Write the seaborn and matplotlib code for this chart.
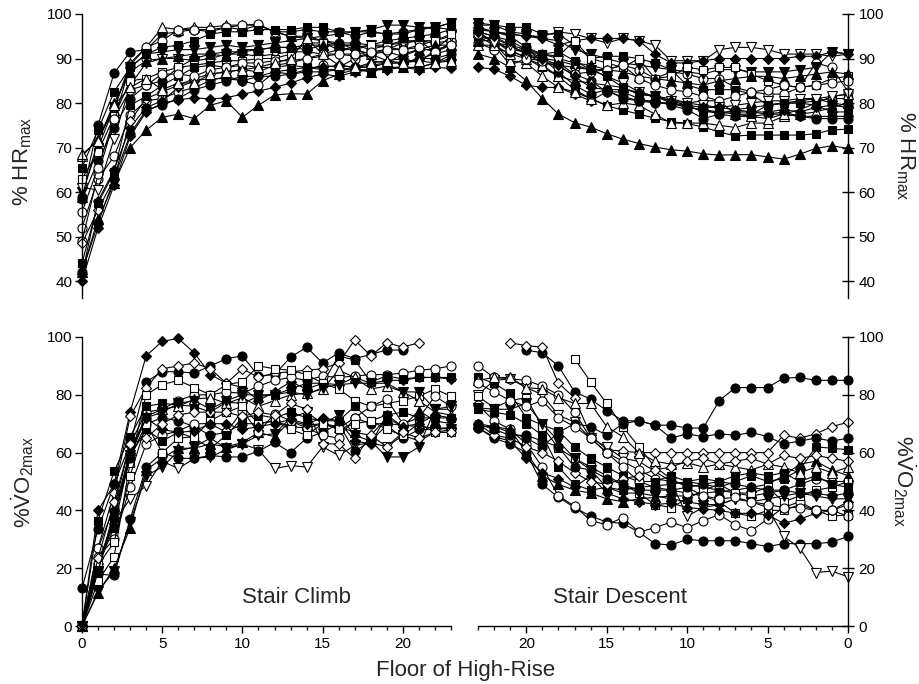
import numpy as np
import pandas as pd
import matplotlib
matplotlib.use("Agg")
import matplotlib.pyplot as plt
from matplotlib.ticker import MultipleLocator
import seaborn as sns

nan = np.nan

# ---------------- data ----------------
floors_up = [0, 1, 2, 3, 4, 5, 6, 7, 8, 9, 10, 11, 12, 13, 14, 15, 16, 17, 18, 19, 20, 21, 22, 23]
floors_down = [23, 22, 21, 20, 19, 18, 17, 16, 15, 14, 13, 12, 11, 10, 9, 8, 7, 6, 5, 4, 3, 2, 1, 0]
major_ticks = [0, 5, 10, 15, 20]
hr_ticks = [40, 50, 60, 70, 80, 90, 100]
vo2_ticks = [0, 20, 40, 60, 80, 100]

# %HRmax during stair climb (floor 0 -> 23)
hr_up_01 = [42, 54, 62, 70, 73.9, 76.8, 77.5, 76.5, 79.5, 80.5, 76.8, 79.5, 81.8, 82.1, 82, 85, 86.5, 87.5, 87, 88, 88, 88, 89, 90.8]
hr_up_02 = [40, 52, 61.5, 72.5, 78, 80, 80.7, 81.2, 80.9, 81.2, 82, 82.7, 83.5, 84.5, 85.7, 86.5, 86, 87, 87.5, 87.5, 88, 87.5, 88, 87.8]
hr_up_03 = [52, 63, 68, 77.3, 80.5, 81, 82.5, 83.5, 85, 86, 85, 84, 87, 86.5, 87.5, 88.5, 88, 90, 91, 92, 93.5, 94, 91.5, 93.5]
hr_up_04 = [59, 75, 86.7, 91.5, 92, 95.5, 96, 96.5, 96, 97, 96.5, 97.5, 96, 96, 96.5, 96, 96, 95, 96, 95.5, 96, 96.5, 97, 96.5]
hr_up_05 = [68, 72, 78.5, 89, 92.5, 97, 96.5, 97, 97, 97.5, 97.5, 97.5, 96, 95, 94.5, 94, 93.5, 92, 91, 89.5, 90, 89, 92, 95]
hr_up_06 = [49, 64, 76, 88.5, 92.5, 94, 96.5, 96.5, 96.5, 97, 97.5, 97.7, 96, 95, 95, 94, 93, 93, 92, 93, 94, 94, 93.5, 94]
hr_up_07 = [65.5, 74, 82.5, 88, 91, 92.5, 93, 94, 95.5, 96, 96, 96.5, 96.5, 96.5, 97, 97, 96, 96, 96, 95.5, 95.5, 96.5, 97, 98]
hr_up_08 = [60, 70, 79, 88, 91, 91.5, 92, 92, 92.5, 93, 92.5, 93, 93.5, 94, 94.5, 95, 95.5, 96, 96.5, 97.5, 97.5, 97, 97, 98]
hr_up_09 = [61, 60.5, 72, 84, 89, 90, 90, 89.5, 90, 91, 91, 90.5, 91, 91.5, 91.5, 91, 92, 92.5, 93, 93, 93.5, 94, 94, 95]
hr_up_10 = [58.5, 67, 74.5, 81, 84, 85, 88, 90, 91, 91.5, 91.5, 92, 92.5, 92.5, 92, 93, 93.5, 93.5, 93, 94, 94.5, 95, 95.5, 96.5]
hr_up_11 = [63, 69, 77, 85, 85.5, 87, 88, 88.5, 89, 89.5, 89.5, 90, 90, 91, 93.5, 93.5, 92, 92, 93, 92.5, 92, 93, 94, 95.5]
hr_up_12 = [41.5, 58, 65, 74.5, 79, 80.5, 83.5, 85, 85.5, 85.5, 85, 86, 87, 87.5, 88, 88, 88.5, 88, 88, 89, 89, 90, 91, 92]
hr_up_13 = [48.5, 56, 63, 76, 81, 82.5, 84, 85.5, 86.5, 87, 87.5, 87, 88.5, 89, 90, 90.5, 91, 90.5, 91, 91.5, 90.5, 92, 92, 93]
hr_up_14 = [44, 57.5, 64.5, 79.5, 81.5, 84, 86, 88, 88.5, 88, 88.5, 88, 88, 88.5, 88, 87.5, 87.5, 87.5, 87.5, 88, 88, 88, 89, 90]
hr_up_15 = [59, 71.5, 80, 87, 89.5, 90, 90.5, 91, 91, 90.5, 92, 92, 92.5, 92.5, 93, 93, 93, 93, 89.5, 89, 91, 92, 93, 93]
hr_up_16 = [55.5, 65.5, 76.5, 83, 84, 86.5, 86.5, 86, 87.5, 88, 89, 89, 89.5, 89.5, 90, 91, 91, 91, 91.5, 92, 92, 92.5, 91.5, 93]
hr_up_17 = [42, 53, 63, 73, 78.5, 79.5, 81, 83, 84, 85, 86, 86, 86, 86.5, 87, 87, 87.5, 88, 88.5, 89, 89, 90, 90, 91]
hr_up_18 = [68.5, 71.5, 79.5, 83.5, 85.5, 83, 84.5, 84.5, 86.5, 87, 87.5, 88, 89, 90, 94.5, 91, 88.5, 88, 89, 89.5, 89, 89.5, 89, 89.5]

# %HRmax during stair descent (floor 23 -> 0)
hr_dn_01 = [91, 90, 88, 85, 81, 77.5, 75.6, 74.6, 73.1, 71.9, 70.9, 70.1, 69.5, 69.2, 68.6, 68.3, 68.4, 68.4, 67.9, 67.4, 68.5, 69.8, 70.4, 69.8]
hr_dn_02 = [95, 93, 88.5, 90, 88, 86, 83, 81, 79.4, 78.4, 77.5, 76.6, 75.8, 75.4, 74.6, 73.5, 72.6, 72.8, 72.8, 72.8, 72.8, 73.1, 74, 74.1]
hr_dn_03 = [88, 87.6, 86, 84, 83.5, 83.5, 82, 80.5, 82.5, 82.5, 81, 80, 80, 79, 78.5, 78, 78, 78, 77.5, 77.5, 77, 77, 77, 77]
hr_dn_04 = [97, 96, 95.5, 95, 95, 96, 95.5, 94.5, 93.5, 94.5, 94, 93, 89.5, 89.5, 89.5, 92, 92.5, 92.5, 92, 91, 91, 91, 90.5, 91]
hr_dn_05 = [96.5, 96, 95.5, 95, 94.5, 93, 94, 94.5, 94.5, 94.5, 94, 91, 89, 89, 89.5, 90, 90, 90, 90, 90, 90.5, 90.5, 91.5, 91]
hr_dn_06 = [93.5, 92, 91.5, 92.5, 89, 88.5, 88, 87.5, 87.5, 88.5, 87.5, 85.5, 87, 86.5, 85.5, 85.5, 83.5, 82.5, 82, 82, 83.5, 89, 88, 82.5]
hr_dn_07 = [96, 93.5, 89.5, 89, 86, 83.5, 82.5, 81, 79.5, 80, 79.5, 77.5, 75.5, 75.5, 75.5, 75, 74.5, 75.5, 75.5, 77, 77.5, 78, 79, 80]
hr_dn_08 = [98, 97.5, 96, 95.5, 94.5, 94, 92, 91, 90, 89, 88.5, 88, 87.5, 87, 86.5, 87.5, 87.5, 87, 87, 87, 87.5, 88, 91.5, 91]
hr_dn_09 = [97.5, 97.5, 97, 97, 95.5, 95.5, 93, 90, 90.5, 90.5, 90, 89, 87.5, 84, 83, 83, 83, 82, 79.5, 80, 80, 80.5, 81, 81]
hr_dn_10 = [95, 94.5, 93, 92, 91, 90.5, 94, 90, 89, 88, 90, 85.5, 86, 88, 87.5, 88, 88, 86.5, 85, 84, 83.5, 84, 85.5, 86]
hr_dn_11 = [96, 95, 93, 91, 89, 89, 86.5, 85, 82.5, 81.5, 80.5, 80, 80, 79, 78.5, 77.5, 77, 77, 77.5, 78, 77, 76.5, 76.5, 76.5]
hr_dn_12 = [93, 93, 91, 90, 88.5, 86, 85, 84.5, 84, 83.5, 82, 81.5, 81, 80, 80.5, 80.5, 77.5, 77, 76.5, 77.5, 78.5, 80, 81.5, 82]
hr_dn_13 = [94, 94, 92, 91.5, 91, 90, 89, 88.5, 87.5, 87, 86, 85.5, 85, 84.5, 84, 85, 85.5, 86, 86, 85.5, 86, 86.5, 87, 86.5]
hr_dn_14 = [95, 94, 91.5, 90.5, 90, 87, 84, 82, 83, 81, 80.5, 80.5, 79.5, 78.5, 76.5, 77.5, 78.5, 79, 79.5, 80, 80.5, 81, 80, 79.5]
hr_dn_15 = [95.5, 94, 92, 90, 89.5, 88, 86.5, 87, 87.5, 88.5, 85.5, 84, 83, 82.5, 81.5, 80.5, 81.5, 82.5, 83, 84, 83.5, 84, 84.5, 85]
hr_dn_16 = [96, 93.5, 93, 91, 90, 89.5, 88.5, 87.5, 86, 84.5, 82.5, 81.5, 80.5, 80, 79.5, 79, 79.5, 80, 80.5, 80.5, 81, 81, 81.5, 82]
hr_dn_17 = [96, 95, 94, 92, 90, 88.5, 86, 83.5, 83, 83, 82.5, 81.5, 80.5, 79.5, 79, 79, 78.5, 78, 78, 78.5, 78, 79, 79.5, 79]
hr_dn_18 = [97, 96, 95, 92.5, 91, 91.5, 89.5, 87.5, 86, 83.5, 82, 81.5, 80, 79.5, 78, 78, 77.5, 77.5, 79.5, 80, 80, 79.5, 78, 78]

# %VO2max during stair climb (floor 0 -> 23)
vo_up_01 = [0, 40, 49, 74, 93.5, 98.5, 99.5, 94.5, 87, 84, 82.5, 78, 81, 84.5, 82, 84, 83.5, 86, 84, 85, 85, 86, 86, 85.5]
vo_up_02 = [13, 33.5, 49, 63, 84.5, 88, 88, 87.5, 90, 92.5, 93.5, 86.5, 87, 93, 96.5, 91, 94.5, 92.5, 94, 95.5, 95.5, nan, nan, nan]
vo_up_03 = [0, 27, 46, 72.5, 82.5, 89, 90, 91, 89, 84, 89, 86, 87.5, 88, 88.5, 89, 91, 99, 93.5, 98, 96.5, 98, nan, nan]
vo_up_04 = [0, 20, 36, 44, 48.5, 57, 54.5, 58, 58.5, 61, 63, 61, 54.5, 55.5, 55, 62, 59, 62.5, 63.5, 62, 66, 64, 67, 68]
vo_up_05 = [0, 18, 17.5, 37, 55, 60, 58, 58, 59, 58.5, 58.5, 60.5, 63.5, 60, 65, 67, 70, 60.5, 64, 69.5, 65, 68, 68, 68.5]
vo_up_06 = [0, 12, 19, 36, 52, 55, 60.5, 62, 65, 61.5, 63, 66, 66.5, 72, 74, 70, 73, 66, 64, 58.5, 58.5, 62, 75, 75]
vo_up_07 = [0, 27, 41, 63, 74, 75, 78, 80, 80, 81, 80.5, 83, 85, 86, 85, 86.5, 86, 86.5, 87, 87, 87.5, 88.5, 89, 90]
vo_up_08 = [0, 36.5, 53.5, 65.5, 76, 77, 76.5, 76, 74, 77.5, 77, 79.5, 80, 82, 84, 84, 93.5, 92, 84.5, 86.5, 85.5, 86, 86, 86]
vo_up_09 = [0, 15.5, 24, 56.5, 80, 83.5, 85, 82.5, 80, 83.5, 84.5, 90, 89, 88.5, 87, 84, 82, 78, 76, 77, 78, 79.5, 82, 79.5]
vo_up_10 = [0, 22, 37, 61, 72.5, 75, 76, 78.5, 79, 77, 79, 76, 78, 80, 80.5, 82, 88.5, 86, 82, 83, 81, 78, 74, 73]
vo_up_11 = [0, 11.5, 20, 34, 54, 58, 61.5, 61.5, 63, 62, 63.5, 67, 65.5, 71, 69.5, 70, 69, 67, 66, 72, 69, 74.5, 71, 70]
vo_up_12 = [0, 20, 37, 58, 70, 72, 71, 69, 66, 67, 70, 70, 71, 69, 68.5, 70, 68.5, 72, 70, 70, 69.5, 69, 68.5, 68.5]
vo_up_13 = [0, 24, 30, 48, 63, 66, 67.5, 70, 70, 67, 74.5, 67, 73.5, 71, 68.5, 66, 65, 72, 76, 78.5, 70, 72, 79.5, 76]
vo_up_14 = [0, 21, 34, 59, 68, 64, 67, 65, 61.5, 66, 72, 73, 72, 74, 72, 71, 71, 76, 71, 73, 74, 72, 72, 72]
vo_up_15 = [0, 21, 29, 52, 70, 60, 65, 65.5, 71, 74, 76, 70, 71, 68, 66, 70, 68, 70, 71, 68, 66, 70, 67, 67]
vo_up_16 = [0, 19, 40, 60, 72, 68, 67, 67.5, 70, 70, 68, 69, 70, 71.5, 70, 72, 71, 64, 63, 73, 69, 70, 73, 72]
vo_up_17 = [0, 23.5, 43, 63, 65, 70, 73, 74, 74, 74, 72.5, 74, 73, 77, 75, 63, 63, 58, 66, 62, 67, 65, 67, 67]
vo_up_18 = [0, 19, 38, 59, 72, 74, 77, 78, 75, 78, 80, 80, 80, 81, 80, 82.5, 83.5, 84, 84, 84, 81, 81, 75, 76]

# %VO2max during stair descent (floor 23 -> 0)
vo_dn_01 = [nan, nan, nan, 95.5, 94.5, 90, 81, 78.5, 74.5, 71, 71, 69.5, 69.5, 68.5, 68.5, 78, 82.5, 82.5, 82.5, 85.8, 86, 85, 85, 85]
vo_dn_02 = [nan, nan, 98, 97, 96.5, 84, 79, 66, 61, 60.5, 60, 60, 60, 60, 60, 60, 60, 60, 60, 66, 65, 66.5, 69, 70.5]
vo_dn_03 = [nan, nan, nan, nan, nan, nan, 92.5, 84.5, 77, 69, 62, 55, 51, 48, 45, 43, 39, 38, 40, 40, 42, 40, 38, 38.5]
vo_dn_04 = [68.5, 65, 63, 60, 49, 44.5, 41, 38, 36, 35.5, 32.5, 28.5, 28, 30, 29.5, 29.5, 29.5, 28.5, 27.5, 28.5, 28.5, 28.5, 29, 31]
vo_dn_05 = [76.5, 71, 68, 63, 55, 45, 41.5, 36.5, 35, 37.5, 32.5, 34, 36, 34, 36.5, 38.5, 35, 33, 37, 41, 43, 40, 40, 38]
vo_dn_06 = [80, 85, 85.5, 82.5, 80, 73, 70.5, 65, 62, 58, 57, 53.5, 50, 38, 41, 42, 44, 43, 41, 31, 27, 18.5, 19, 17]
vo_dn_07 = [69, 69, 67, 65, 62, 67, 70, 69, 66, 70, 71, 69.5, 65, 66.5, 65.5, 66.5, 66, 67, 65.5, 63, 64, 65, 64, 65]
vo_dn_08 = [90, 86, 85.5, 85, 83, 80, 74, 65, 60, 57, 54, 51, 50, 49, 48, 47, 46, 45, 46, 47, 49, 51, 50, 50]
vo_dn_09 = [86, 84, 80.5, 72, 69.5, 67.5, 62, 58, 55, 52, 50, 50, 52, 50, 49, 48, 50, 52, 50, 51, 54, 62, 61.5, 61]
vo_dn_10 = [70, 69, 68, 60, 52, 49, 47, 46, 44, 43, 44, 44.5, 45, 45, 46, 46.5, 47, 48, 49, 52, 56, 57, 54, 52]
vo_dn_11 = [79.5, 75.5, 78, 79, 69, 61.5, 58, 55, 52, 49, 46, 42, 41, 44, 47, 49, 46, 46, 48, 43, 45, 47, 48, 50]
vo_dn_12 = [85, 86, 86, 82.5, 82, 79, 77, 77, 69, 65.5, 60, 57, 56, 56.5, 55, 56, 55, 54, 56, 55, 53, 55, 53, 55]
vo_dn_13 = [75.5, 75, 75, 77, 70, 64, 58, 54, 48, 46, 46, 45, 44, 43, 42, 42, 44, 43, 44, 45, 46, 45, 44, 44]
vo_dn_14 = [68.5, 65.5, 64, 58, 53, 51, 48, 52, 46, 44, 43, 42, 42.5, 41, 40.5, 40, 39, 39, 38.5, 35.5, 37, 39, 40, 43]
vo_dn_15 = [84, 81, 78, 76, 78, 72, 69, 65, 60, 55, 50, 48, 47, 46, 45, 44, 44.5, 43, 42, 41, 41, 40, 40, 42]
vo_dn_16 = [75, 74, 73, 70, 66, 55, 49, 47, 48, 47, 48, 48.5, 49, 50, 51, 50, 52, 53, 52, 53, 50, 52, 49, 48]
vo_dn_17 = [70, 66, 65, 62, 60, 57, 53, 50, 49, 51, 52, 54, 55, 57, 58, 56, 57, 58, 56, 59, 58, 59, 58, 57]
vo_dn_18 = [70, 68, 66, 66, 64, 62, 55, 54, 51, 49, 47, 47, 47, 48, 49, 50, 49, 48, 47, 47, 46, 46, 45, 46]

hr_up = [hr_up_01, hr_up_02, hr_up_03, hr_up_04, hr_up_05, hr_up_06, hr_up_07, hr_up_08, hr_up_09,
         hr_up_10, hr_up_11, hr_up_12, hr_up_13, hr_up_14, hr_up_15, hr_up_16, hr_up_17, hr_up_18]
hr_dn = [hr_dn_01, hr_dn_02, hr_dn_03, hr_dn_04, hr_dn_05, hr_dn_06, hr_dn_07, hr_dn_08, hr_dn_09,
         hr_dn_10, hr_dn_11, hr_dn_12, hr_dn_13, hr_dn_14, hr_dn_15, hr_dn_16, hr_dn_17, hr_dn_18]
vo_up = [vo_up_01, vo_up_02, vo_up_03, vo_up_04, vo_up_05, vo_up_06, vo_up_07, vo_up_08, vo_up_09,
         vo_up_10, vo_up_11, vo_up_12, vo_up_13, vo_up_14, vo_up_15, vo_up_16, vo_up_17, vo_up_18]
vo_dn = [vo_dn_01, vo_dn_02, vo_dn_03, vo_dn_04, vo_dn_05, vo_dn_06, vo_dn_07, vo_dn_08, vo_dn_09,
         vo_dn_10, vo_dn_11, vo_dn_12, vo_dn_13, vo_dn_14, vo_dn_15, vo_dn_16, vo_dn_17, vo_dn_18]

# ---------------- styles ----------------
# (marker, filled)
hr_up_style = [('^', 1), ('D', 1), ('o', 0), ('o', 1), ('^', 0), ('o', 0), ('s', 1), ('v', 1), ('v', 0),
               ('o', 1), ('s', 0), ('D', 1), ('D', 0), ('s', 1), ('^', 1), ('o', 0), ('o', 1), ('^', 0)]
hr_dn_style = [('^', 1), ('s', 1), ('D', 1), ('v', 0), ('D', 1), ('o', 0), ('^', 0), ('v', 1), ('s', 1),
               ('s', 0), ('o', 1), ('^', 0), ('^', 1), ('o', 1), ('o', 0), ('v', 0), ('D', 1), ('s', 1)]
vo_up_style = [('D', 1), ('o', 1), ('D', 0), ('v', 0), ('o', 1), ('v', 1), ('o', 0), ('s', 1), ('s', 0),
               ('^', 0), ('^', 1), ('o', 1), ('o', 0), ('s', 1), ('s', 0), ('D', 1), ('D', 0), ('v', 1)]
vo_dn_style = [('o', 1), ('D', 0), ('s', 0), ('o', 1), ('o', 0), ('v', 0), ('o', 1), ('o', 0), ('s', 1),
               ('^', 1), ('s', 0), ('^', 0), ('v', 1), ('D', 1), ('o', 0), ('s', 1), ('D', 0), ('o', 1)]
msize = {'o': 6.5, 's': 5.8, '^': 6.8, 'v': 6.8, 'D': 5.4}

sns.set_style("ticks")
plt.rcParams['font.family'] = ['Liberation Sans', 'DejaVu Sans']
plt.rcParams['mathtext.fontset'] = 'custom'
plt.rcParams['mathtext.rm'] = 'Liberation Sans'
plt.rcParams['mathtext.it'] = 'Liberation Sans:italic'
plt.rcParams['mathtext.bf'] = 'Liberation Sans:bold'

W, H = 919, 684
fig = plt.figure(figsize=(W / 100, H / 100), dpi=100)


def add_ax(l, t, r, b):
    return fig.add_axes([l / W, 1 - b / H, (r - l) / W, (b - t) / H])


ax_tl = add_ax(82, 14, 451, 298)
ax_tr = add_ax(478, 14, 848, 298)
ax_bl = add_ax(82, 337, 451, 626)
ax_br = add_ax(478, 337, 848, 626)


def draw(ax, floors, series, styles):
    frames = []
    for i, vals in enumerate(series):
        frames.append(pd.DataFrame({'floor': floors, 'value': vals, 'subject': i}))
    df = pd.concat(frames, ignore_index=True)
    for i, (m, filled) in enumerate(styles):
        sub = df[df['subject'] == i].dropna()
        sns.lineplot(data=sub, x='floor', y='value', ax=ax, sort=False, errorbar=None,
                     color='black', linewidth=0.8, marker=m, markersize=msize[m],
                     markerfacecolor='black' if filled else 'white',
                     markeredgecolor='black', markeredgewidth=0.8,
                     clip_on=False, legend=False)


draw(ax_tl, floors_up, hr_up, hr_up_style)
draw(ax_tr, floors_down, hr_dn, hr_dn_style)
draw(ax_bl, floors_up, vo_up, vo_up_style)
draw(ax_br, floors_down, vo_dn, vo_dn_style)

lab_fs = 16
tick_fs = 11

for ax in (ax_tl, ax_tr, ax_bl, ax_br):
    ax.set_xlabel('')
    ax.set_ylabel('')
    for s in ax.spines.values():
        s.set_linewidth(1.0)
        s.set_color('black')
    ax.tick_params(labelsize=tick_fs, colors='black', width=1.0)

for ax in (ax_tl, ax_bl):
    ax.set_xlim(0, 23)
    ax.spines['right'].set_visible(False)
    ax.spines['top'].set_visible(False)
    ax.tick_params(axis='y', direction='out', length=5, pad=2)
for ax in (ax_tr, ax_br):
    ax.set_xlim(23, 0)
    ax.spines['left'].set_visible(False)
    ax.spines['top'].set_visible(False)
    ax.yaxis.tick_right()
    ax.yaxis.set_label_position('right')
    ax.tick_params(axis='y', direction='inout', length=9, pad=3)

for ax in (ax_tl, ax_tr):
    ax.set_ylim(36.2, 100)
    ax.set_yticks(hr_ticks)
    ax.spines['bottom'].set_visible(False)
    ax.set_xticks([])
for ax in (ax_bl, ax_br):
    ax.set_ylim(0, 100)
    ax.set_yticks(vo2_ticks)
    ax.set_xticks(major_ticks)
    ax.xaxis.set_minor_locator(MultipleLocator(1))
    ax.tick_params(axis='x', which='major', direction='out', length=5, pad=3)
    ax.tick_params(axis='x', which='minor', direction='out', length=3, width=1.0)

hr_label = r'% HR$_{\mathrm{max}}$'
vo_label = r'%$\mathrm{\dot{V}O_{2max}}$'
ax_tl.set_ylabel(hr_label, fontsize=lab_fs, rotation=90, va='center', ha='center')
ax_tl.yaxis.set_label_coords(-0.16, 0.48)
ax_tr.set_ylabel(hr_label, fontsize=lab_fs, rotation=270, va='center', ha='center')
ax_tr.yaxis.set_label_coords(1.155, 0.5)
ax_bl.set_ylabel(vo_label, fontsize=lab_fs, rotation=90, va='center', ha='center')
ax_bl.yaxis.set_label_coords(-0.16, 0.5)
ax_br.set_ylabel(vo_label, fontsize=lab_fs, rotation=270, va='center', ha='center')
ax_br.yaxis.set_label_coords(1.152, 0.5)

ax_bl.text(13.4, 9.7, 'Stair Climb', fontsize=16, ha='center', va='center')
ax_br.text(14.2, 9.7, 'Stair Descent', fontsize=16, ha='center', va='center')
fig.text(466 / W, 1 - 676 / H, 'Floor of High-Rise', fontsize=16, ha='center', va='baseline')

fig.savefig('out.png', dpi=100, facecolor='white')
